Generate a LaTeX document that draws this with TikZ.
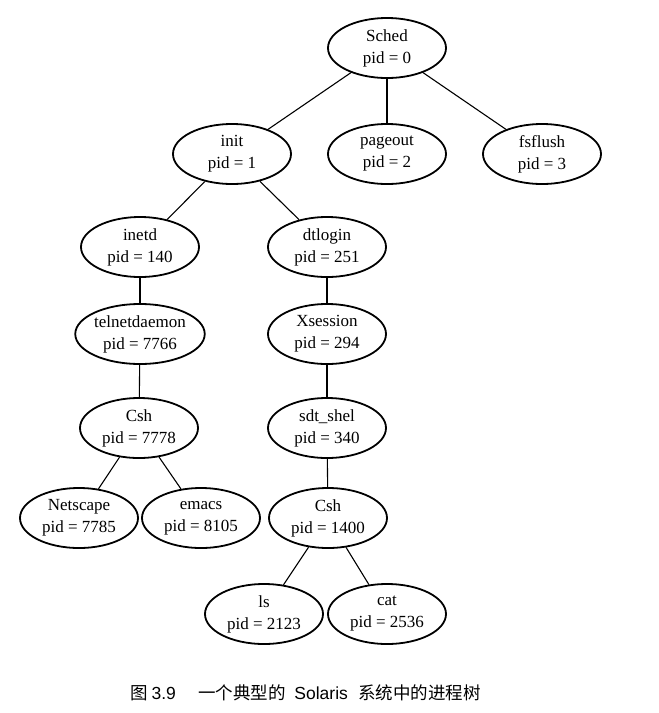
\documentclass[tikz,border=0pt]{standalone}
\usepackage{fontspec}
\setmainfont{Liberation Serif}
\newfontfamily\cjk{Noto Sans CJK SC}
\newfontfamily\latinsans{Liberation Sans}
\usetikzlibrary{shapes.geometric}
\begin{document}
\begin{tikzpicture}[x=1pt,y=-1pt,
  proc/.style={ellipse,draw,line width=1.8pt,minimum width=118pt,minimum height=60pt,
    inner sep=0pt,align=center,font=\fontsize{17}{22}\selectfont},
  link/.style={line width=1.1pt},
  caption/.style={anchor=west,inner sep=0pt,font=\cjk\fontsize{17.5}{20}\selectfont}]
\useasboundingbox (0,0) rectangle (659,713);
% process nodes
\node[proc] (sched) at (387,48) {Sched\\pid = 0};
\node[proc] (init) at (232,154) {init\\pid = 1};
\node[proc] (pageout) at (387,154) {pageout\\pid = 2};
\node[proc] (fsflush) at (542,154) {fsflush\\pid = 3};
\node[proc] (inetd) at (140,247) {inetd\\pid = 140};
\node[proc] (dtlogin) at (327,247) {dtlogin\\pid = 251};
\node[proc] (telnet) at (140,334) {telnetdaemon\\pid = 7766};
\node[proc] (xsession) at (327,334) {Xsession\\pid = 294};
\node[proc] (csha) at (139,428) {Csh\\pid = 7778};
\node[proc] (sdt) at (327,428) {sdt\_shel\\pid = 340};
\node[proc] (netscape) at (79,518) {Netscape\\pid = 7785};
\node[proc] (emacs) at (201,518) {emacs\\pid = 8105};
\node[proc] (cshb) at (328,518) {Csh\\pid = 1400};
\node[proc] (ls) at (264,614) {ls\\pid = 2123};
\node[proc] (cat) at (387,614) {cat\\pid = 2536};
% parent-child links
\draw[link] (sched) -- (init);
\draw[link] (sched) -- (pageout);
\draw[link] (sched) -- (fsflush);
\draw[link] (init) -- (inetd);
\draw[link] (init) -- (dtlogin);
\draw[link] (inetd) -- (telnet);
\draw[link] (telnet) -- (csha);
\draw[link] (csha) -- (netscape);
\draw[link] (csha) -- (emacs);
\draw[link] (dtlogin) -- (xsession);
\draw[link] (xsession) -- (sdt);
\draw[link] (sdt) -- (cshb);
\draw[link] (cshb) -- (ls);
\draw[link] (cshb) -- (cat);
% figure caption
\node[caption] (capnum) at (130,693) {图 {\latinsans 3.9}};
\node[caption] (captext) at (198,693) {一个典型的\hspace{0.5em}{\latinsans Solaris}\hspace{0.6em}系统中的进程树};
\end{tikzpicture}
\end{document}
